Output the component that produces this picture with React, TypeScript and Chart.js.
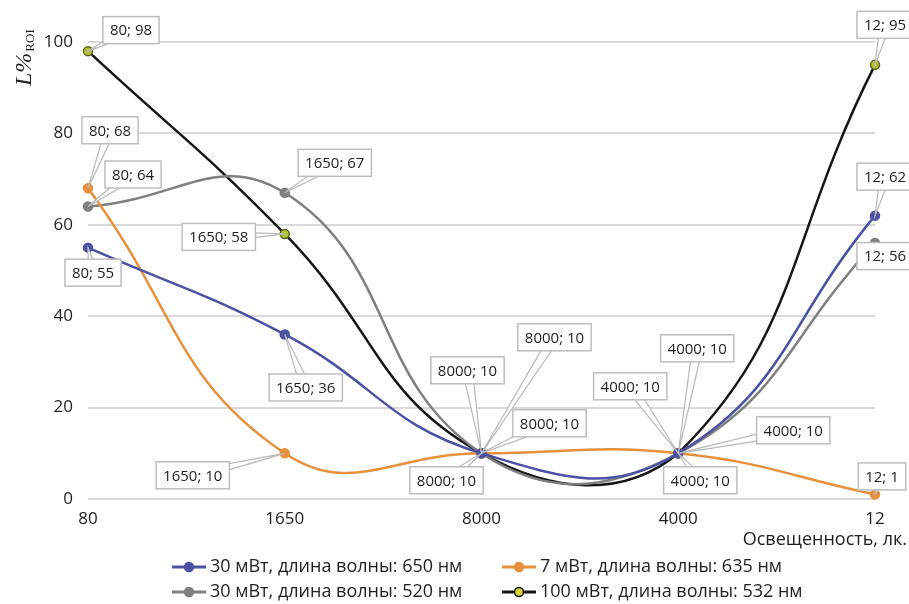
import React, { useEffect, useRef } from "react";
import { Chart, registerables } from "chart.js";

Chart.register(...registerables);

const categories = ["80", "1650", "8000", "4000", "12"];
const seriesNames = [
  "30 мВт, длина волны: 650 нм",
  "7 мВт, длина волны: 635 нм",
  "30 мВт, длина волны: 520 нм",
  "100 мВт, длина волны: 532 нм",
];
const blue650 = [55, 36, 10, 10, 62];
const orange635 = [68, 10, 10, 10, 1];
const gray520 = [64, 67, 10, 10, 56];
const black532 = [98, 58, 10, 10, 95];
const yTicks = [0, 20, 40, 60, 80, 100];
const xTitle = "Освещенность, лк.";

const lineColors = ["#4a51a3", "#e8903c", "#7f7f7f", "#151515"];
const pointFill = ["#4a51a3", "#e8903c", "#7f7f7f", "#b3c232"];
const pointEdge = ["#4a51a3", "#e8903c", "#7f7f7f", "#5e6418"];

// label box offsets (px) relative to each data point
const labelOffsets: number[][][] = [
  [[5, 25], [21, 53], [68, -30], [115, -23], [10, -39]],
  [[22, -58], [-92, 22], [-35, 27], [22, 27], [7, -18]],
  [[45, -32], [50, -30], [73, -116], [19, -105], [10, 13]],
  [[43, -21], [-66, 3], [-14, -83], [-48, -67], [10, -40]],
];

const FONT = "'Open Sans', 'Noto Sans', sans-serif";

const labelPlugin = {
  id: "callouts",
  afterDatasetsDraw(chart: any) {
    const ctx = chart.ctx as CanvasRenderingContext2D;
    ctx.save();
    ctx.font = `15px ${FONT}`;
    chart.data.datasets.forEach((ds: any, i: number) => {
      const meta = chart.getDatasetMeta(i);
      meta.data.forEach((pt: any, j: number) => {
        const text = `${categories[j]}; ${ds.data[j]}`;
        const [dx, dy] = labelOffsets[i][j];
        const cx = pt.x + dx;
        const cy = pt.y + dy;
        const w = ctx.measureText(text).width + 14;
        const h = 27;
        const len = Math.hypot(dx, dy) || 1;
        const nx = -dy / len;
        const ny = dx / len;
        const half = 5;
        ctx.beginPath();
        ctx.moveTo(pt.x, pt.y);
        ctx.lineTo(cx + nx * half, cy + ny * half);
        ctx.lineTo(cx - nx * half, cy - ny * half);
        ctx.closePath();
        ctx.fillStyle = "#ffffff";
        ctx.fill();
        ctx.strokeStyle = "#b8b8b8";
        ctx.lineWidth = 1.2;
        ctx.stroke();
        ctx.fillStyle = "#ffffff";
        ctx.fillRect(cx - w / 2, cy - h / 2, w, h);
        ctx.strokeStyle = "#bdbdbd";
        ctx.lineWidth = 1.5;
        ctx.strokeRect(cx - w / 2, cy - h / 2, w, h);
        ctx.fillStyle = "#1e1e1e";
        ctx.textAlign = "center";
        ctx.textBaseline = "middle";
        ctx.fillText(text, cx, cy + 1);
      });
    });
    ctx.restore();
  },
  afterDraw(chart: any) {
    const ctx = chart.ctx as CanvasRenderingContext2D;
    ctx.save();
    ctx.translate(31, 86);
    ctx.rotate(-Math.PI / 2);
    ctx.fillStyle = "#1e1e1e";
    ctx.textBaseline = "alphabetic";
    ctx.textAlign = "left";
    ctx.font = "italic 24px 'Liberation Serif', 'DejaVu Serif', serif";
    ctx.fillText("L%", 0, 0);
    const wL = ctx.measureText("L%").width;
    ctx.font = "13px 'Liberation Serif', 'DejaVu Serif', serif";
    ctx.fillText("ROI", wL + 1, 3);
    ctx.restore();

    ctx.save();
    ctx.fillStyle = "#1e1e1e";
    ctx.font = `18px ${FONT}`;
    ctx.textAlign = "right";
    ctx.textBaseline = "middle";
    ctx.fillText(xTitle, 907, 540);

    const cols = [172, 502];
    const rows = [567, 592];
    ctx.textAlign = "left";
    ctx.font = `18px ${FONT}`;
    seriesNames.forEach((name, i) => {
      const x = cols[i % 2];
      const y = rows[Math.floor(i / 2)];
      ctx.strokeStyle = lineColors[i];
      ctx.lineWidth = 3;
      ctx.beginPath();
      ctx.moveTo(x, y);
      ctx.lineTo(x + 34, y);
      ctx.stroke();
      ctx.beginPath();
      ctx.arc(x + 17, y, 4.5, 0, Math.PI * 2);
      ctx.fillStyle = i === 3 ? "#d6d43a" : pointFill[i];
      ctx.fill();
      ctx.lineWidth = 1.5;
      ctx.strokeStyle = i === 3 ? "#151515" : pointEdge[i];
      ctx.stroke();
      ctx.fillStyle = "#1e1e1e";
      ctx.fillText(name, x + 38, y);
    });
    ctx.restore();
  },
};

export default function App() {
  const ref = useRef<HTMLCanvasElement | null>(null);
  useEffect(() => {
    document.body.style.margin = "0";
    const all = [blue650, orange635, gray520, black532];
    const chart = new Chart(ref.current as HTMLCanvasElement, {
      type: "line",
      data: {
        labels: categories,
        datasets: all.map((d, i) => ({
          label: seriesNames[i],
          data: d,
          borderColor: lineColors[i],
          borderWidth: 2.5,
          backgroundColor: pointFill[i],
          pointBackgroundColor: pointFill[i],
          pointBorderColor: pointEdge[i],
          pointBorderWidth: 1.5,
          pointRadius: 4.5,
          tension: 0.45,
          clip: false as any,
          fill: false,
        })),
      },
      options: {
        animation: false,
        responsive: false,
        layout: { padding: { top: 42, right: 34, left: 0, bottom: 0 } },
        plugins: { legend: { display: false }, tooltip: { enabled: false } },
        scales: {
          x: {
            offset: false,
            grid: { display: false },
            border: { display: false },
            ticks: { color: "#1e1e1e", font: { size: 17, family: FONT }, padding: 2, maxRotation: 0 },
            afterFit: (s: any) => { s.height = 105; },
          },
          y: {
            min: 0,
            max: 100,
            afterBuildTicks: (s: any) => { s.ticks = yTicks.map((v) => ({ value: v })); },
            grid: { color: "#d9d9d9", lineWidth: 2, drawTicks: false },
            border: { display: false },
            ticks: { color: "#1e1e1e", font: { size: 17, family: FONT }, padding: 15 },
            afterFit: (s: any) => { s.width = 88; },
          },
        },
      },
      plugins: [labelPlugin],
    });
    return () => chart.destroy();
  }, []);
  return (
    <div style={{ width: 909, height: 604 }}>
      <canvas ref={ref} width={909} height={604} style={{ display: "block" }} />
    </div>
  );
}
